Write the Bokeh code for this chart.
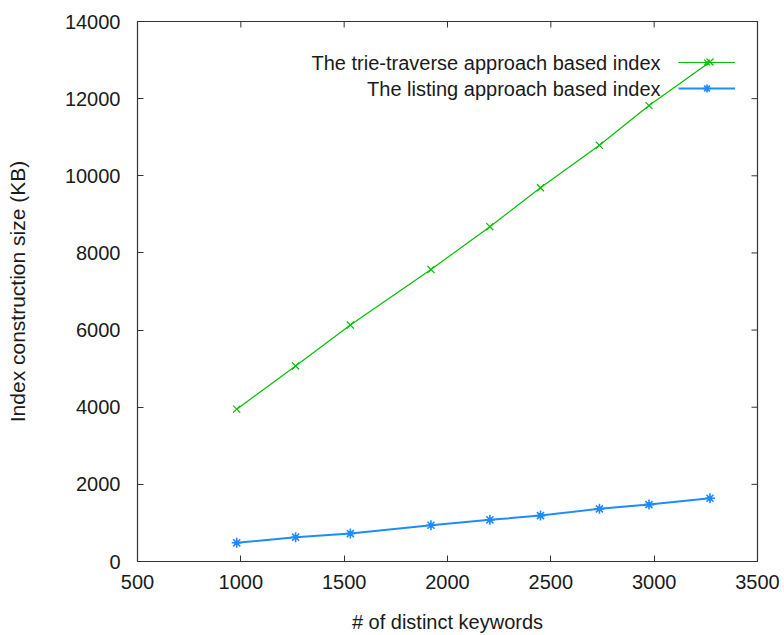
from bokeh.plotting import figure
from bokeh.models import FixedTicker, Legend, LegendItem, Label, Range1d
from bokeh.core.properties import value
from bokeh.embed import file_html
from bokeh.resources import INLINE

# ---- data ----
keywords = [980, 1265, 1530, 1920, 2205, 2450, 2735, 2975, 3270]
trie_size = [3950, 5070, 6130, 7570, 8680, 9690, 10790, 11820, 12950]
listing_size = [485, 630, 725, 940, 1080, 1190, 1365, 1475, 1640]
series_names = ["The trie-traverse approach based index", "The listing approach based index"]
x_ticks = [500, 1000, 1500, 2000, 2500, 3000, 3500]
y_ticks = [0, 2000, 4000, 6000, 8000, 10000, 12000, 14000]
x_title = "# of distinct keywords"
y_title = "Index construction size (KB)"

FONT = "Liberation Sans"
FS = "20px"
TXT = "#1a1a1a"
AX = "#333333"
GREEN = "#00c000"
BLUE = "#1e8cff"

W, H = 784, 635
FL, FR, FT, FB = 137, 757, 21, 562   # frame edges on the page
X0, X1, Y0, Y1 = 500, 3500, 0, 14000
p = figure(width=W, height=H, output_backend="svg", toolbar_location=None,
           x_range=Range1d(X0, X1), y_range=Range1d(Y0, Y1),
           min_border_left=FL, min_border_right=W - FR,
           min_border_top=FT, min_border_bottom=H - FB)
p.grid.visible = False
p.background_fill_color = "white"
p.border_fill_color = "white"
p.outline_line_color = AX
p.outline_line_width = 1.2

TICK = 6
for ax, ticks in ((p.xaxis[0], x_ticks), (p.yaxis[0], y_ticks)):
    ax.ticker = FixedTicker(ticks=ticks)
    ax.major_tick_in = TICK
    ax.major_tick_out = 0
    ax.minor_tick_line_color = None
    ax.major_tick_line_color = AX
    ax.axis_line_color = AX
    ax.major_label_text_font = FONT
    ax.major_label_text_font_size = FS
    ax.major_label_text_color = TXT
    ax.axis_label_text_font = FONT
    ax.axis_label_text_font_style = "normal"
    ax.axis_label_text_color = TXT

xa = p.xaxis[0]
ya = p.yaxis[0]
xa.axis_label = x_title
ya.axis_label = y_title
xa.axis_label_text_font_size = FS
ya.axis_label_text_font_size = "21px"
xa.major_label_standoff = 13
ya.major_label_standoff = 17
xa.axis_label_standoff = 19
ya.axis_label_standoff = 33

# mirror ticks on the top and right edges of the frame (from the tick lists)
tx = TICK * (Y1 - Y0) / (FB - FT)
ty = TICK * (X1 - X0) / (FR - FL)
p.segment(x0=x_ticks, y0=[Y1] * len(x_ticks), x1=x_ticks, y1=[Y1 - tx] * len(x_ticks),
          line_color=AX, line_width=1)
p.segment(x0=[X1] * len(y_ticks), y0=y_ticks, x1=[X1 - ty] * len(y_ticks), y1=y_ticks,
          line_color=AX, line_width=1)

# ---- series ----
gl = p.line(keywords, trie_size, line_color=GREEN, line_width=1.2)
gm = p.scatter(keywords, trie_size, marker="x", size=10, line_color=GREEN, line_width=1.2)
bl = p.line(keywords, listing_size, line_color=BLUE, line_width=2)
bm = p.scatter(keywords, listing_size, marker="asterisk", size=10, line_color=BLUE, line_width=1.6)
bd = p.scatter(keywords, listing_size, marker="circle", size=4, line_color=BLUE, fill_color=BLUE)

# ---- legend: samples on the right, text right-aligned to their left ----
leg = Legend(items=[LegendItem(label=value(" "), renderers=[gl, gm]),
                    LegendItem(label=value("  "), renderers=[bl, bm])],
             location=(541, 463), padding=0, margin=0, spacing=6,
             glyph_width=57, glyph_height=20, label_height=20, label_width=0,
             label_standoff=0, label_text_font_size="1px",
             border_line_alpha=0, background_fill_alpha=0)
p.add_layout(leg, "center")

legend_x = [3031, 3031]
legend_y = [12913, 12240]
for name, lx, ly in zip(series_names, legend_x, legend_y):
    p.add_layout(Label(x=lx, y=ly, text=name, text_align="right", text_baseline="middle",
                       text_font=FONT, text_font_size=FS, text_color=TXT))

open("out.html", "w").write(file_html(p, INLINE))
